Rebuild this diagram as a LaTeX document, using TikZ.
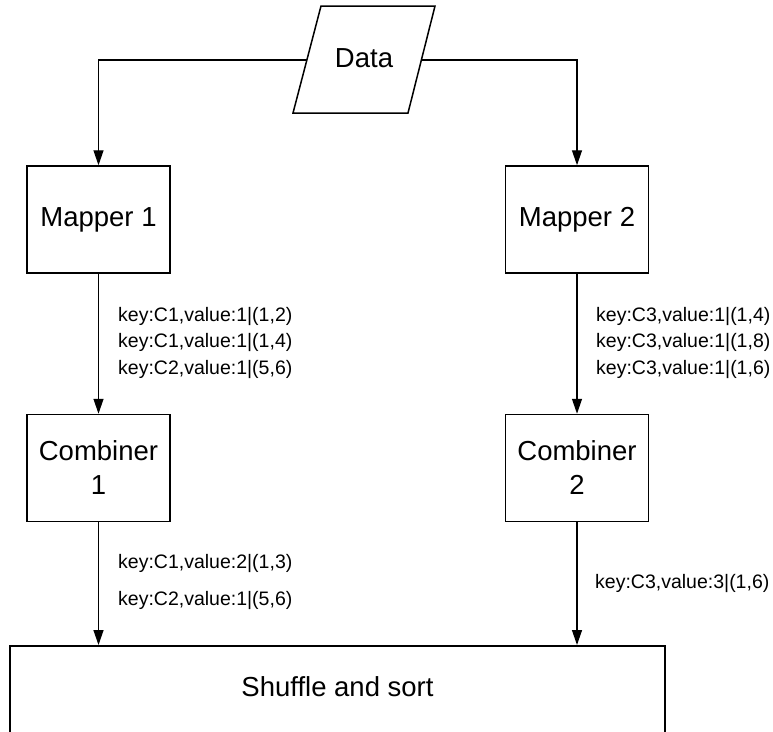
\documentclass[tikz,border=0pt]{standalone}
\usepackage{fontspec}
\setmainfont{Liberation Sans}
\usetikzlibrary{arrows.meta}
\begin{document}
\begin{tikzpicture}[x=1pt,y=-1pt,
  box/.style={draw, line width=1.5pt, minimum width=143pt, minimum height=107pt,
    align=center, inner sep=0pt, font=\fontsize{27.5}{34}\selectfont},
  flow/.style={line width=1.3pt, -{Triangle[length=15pt,width=10pt]}},
  lbl/.style={anchor=west, inner sep=0pt, font=\fontsize{19.5}{26}\selectfont},
  big/.style={inner sep=0pt, font=\fontsize{27.5}{34}\selectfont}]
\clip (0,0) rectangle (773,731);

% input data (parallelogram)
\draw[line width=1.5pt] (321,6) -- (435,6) -- (408,113) -- (293,113) -- cycle;
\node[big] (data) at (364,58) {Data};
\coordinate (dl) at (306.9,60);
\coordinate (dr) at (421.4,60);

% mappers and combiners
\node[box] (map1) at (98.5,219.5) {Mapper 1};
\node[box] (map2) at (577,219.5) {Mapper 2};
\node[box] (comb1) at (98.5,468) {Combiner\\1};
\node[box] (comb2) at (577,468) {Combiner\\2};

% shuffle stage (runs off the bottom edge)
\node[draw, line width=1.5pt, minimum width=655pt, minimum height=200pt,
  anchor=north] (shuffle) at (337.5,645) {};
\node[big] (shuffletext) at (337.5,687) {Shuffle and sort};

% connectors
\draw[flow] (dl) -| (map1.north);
\draw[flow] (dr) -| (map2.north);
\draw[flow] (map1) -- (comb1);
\draw[flow] (map2) -- (comb2);
\draw[flow] (comb1.south) -- (comb1.south |- shuffle.north);
\draw[flow] (comb2.south) -- (comb2.south |- shuffle.north);

% mapper outputs
\node[lbl] (m1a) at (118,316) {key:C1,value:1|(1,2)};
\node[lbl] (m1b) at (118,342) {key:C1,value:1|(1,4)};
\node[lbl] (m1c) at (118,369) {key:C2,value:1|(5,6)};
\node[lbl] (m2a) at (596,316) {key:C3,value:1|(1,4)};
\node[lbl] (m2b) at (596,342) {key:C3,value:1|(1,8)};
\node[lbl] (m2c) at (596,369) {key:C3,value:1|(1,6)};

% combiner outputs
\node[lbl] (c1a) at (118,563) {key:C1,value:2|(1,3)};
\node[lbl] (c1b) at (118,600) {key:C2,value:1|(5,6)};
\node[lbl] (c2a) at (595,583) {key:C3,value:3|(1,6)};
\end{tikzpicture}
\end{document}
